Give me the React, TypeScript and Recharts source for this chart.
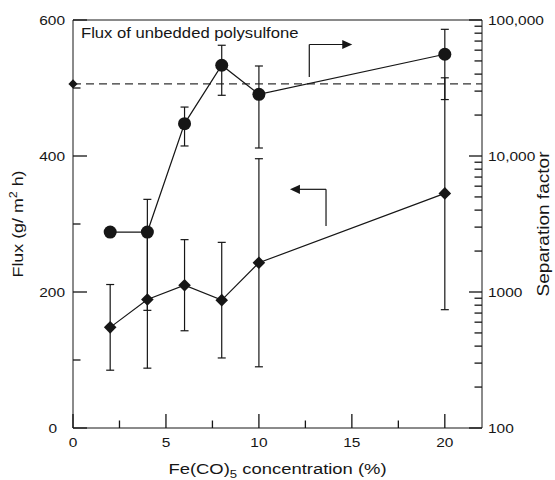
import React from 'react';
import {
  ComposedChart,
  Line,
  XAxis,
  YAxis,
  ErrorBar,
  ReferenceLine,
  ReferenceDot,
} from 'recharts';

// Fe(CO)5 concentration (%)
const concentration = [2, 4, 6, 8, 10, 20];

// Flux (g/m2 h), left axis, with error range
const fluxValues = [148, 189, 210, 188, 243, 345];
const fluxLow = [85, 88, 143, 103, 90, 174];
const fluxHigh = [211, 290, 277, 273, 396, 515];

// Separation factor, right (log) axis, with error range
const separationValues = [2760, 2760, 17300, 46500, 28400, 56000];
const separationLow = [2760, 733, 11850, 27950, 11450, 26000];
const separationHigh = [2760, 4800, 22900, 65200, 45900, 85400];

// Flux of the unbedded polysulfone membrane
const unbeddedFlux = 506;

// Axis ticks
const xTicksMajor = [0, 5, 10, 15, 20];
const xTicksAll = [0, 2.5, 5, 7.5, 10, 12.5, 15, 17.5, 20];
const fluxTicksMajor = [0, 200, 400, 600];
const fluxTicksAll = [0, 100, 200, 300, 400, 500, 600];
const sepTicksMajor = [100, 1000, 10000, 100000];
const sepTickLabels = ['100', '1000', '10,000', '100,000'];
const sepTicksAll = [
  100, 200, 300, 400, 500, 600, 700, 800, 900,
  1000, 2000, 3000, 4000, 5000, 6000, 7000, 8000, 9000,
  10000, 20000, 30000, 40000, 50000, 60000, 70000, 80000, 90000,
  100000,
];

// Arrow annotations (data coordinates on the flux axis)
const rightArrow = { x: 12.71, xTip: 15.02, yFrom: 516, yTo: 564 };
const leftArrow = { x: 13.61, xTip: 11.67, yFrom: 297, yTo: 351 };

const rows = concentration.map((x, i) => ({
  x,
  flux: fluxValues[i],
  fluxErr: [fluxValues[i] - fluxLow[i], fluxHigh[i] - fluxValues[i]],
  sep: separationValues[i],
  sepErr: [separationValues[i] - separationLow[i], separationHigh[i] - separationValues[i]],
}));

// Layout
const W = 555;
const H = 480;
const PLOT_LEFT = 73;
const PLOT_RIGHT = 482;
const PLOT_TOP = 20;
const PLOT_BOTTOM = 428;
const X_MAX = 22;
const MAJOR_TICK = 14;
const MINOR_TICK = 7.5;
const TICK_W = 1.3;
const INK = '#161616';
const FONT = '"Liberation Sans", Arial, Helvetica, sans-serif';
const STRETCH = 1.19;

type WideTextProps = {
  x: number;
  y: number;
  anchor?: 'start' | 'middle' | 'end';
  size: number;
  rotate?: number;
  children: React.ReactNode;
};

const WideText = ({ x, y, anchor = 'start', size, rotate, children }: WideTextProps) => (
  <text
    transform={`translate(${x},${y})${rotate ? ` rotate(${rotate})` : ''} scale(${STRETCH},1)`}
    textAnchor={anchor}
    fontSize={size}
    fontFamily={FONT}
    fill={INK}
  >
    {children}
  </text>
);

const FluxTitle = () => (
  <WideText x={23.3} y={224} rotate={-90} anchor="middle" size={15}>
    Flux (g/ m
    <tspan fontSize={10.5} dy={-6}>2</tspan>
    <tspan dy={6}> h)</tspan>
  </WideText>
);

const SeparationTitle = () => (
  <WideText x={549} y={224} rotate={-90} anchor="middle" size={16}>
    Separation factor
  </WideText>
);

const ConcentrationTitle = () => (
  <WideText x={277.5} y={474} anchor="middle" size={15.5}>
    Fe(CO)
    <tspan fontSize={11} dy={4}>5</tspan>
    <tspan dy={-4}> concentration (%)</tspan>
  </WideText>
);

const UnbeddedCaption = () => (
  <WideText x={PLOT_LEFT + 8} y={PLOT_TOP + 17.5} anchor="start" size={14}>
    Flux of unbedded polysulfone
  </WideText>
);

// Bottom axis: inward tick mark, label, and the axis title with the first tick
const XTick = (props: any) => {
  const { x, payload } = props;
  const v = payload.value;
  const major = xTicksMajor.includes(v);
  const len = major ? MAJOR_TICK : MINOR_TICK;
  return (
    <g>
      <rect x={x - TICK_W / 2} y={PLOT_BOTTOM - len} width={TICK_W} height={len} fill={INK} />
      {major && (
        <WideText x={x} y={PLOT_BOTTOM + 18.5} anchor="middle" size={13}>
          {v}
        </WideText>
      )}
      {v === 0 && <ConcentrationTitle />}
    </g>
  );
};

// Flux axis: inward tick mark, label, axis title and the caption at the top
const LeftTick = (props: any) => {
  const { y, payload } = props;
  const v = payload.value;
  const major = fluxTicksMajor.includes(v);
  const len = major ? MAJOR_TICK : MINOR_TICK;
  return (
    <g>
      <rect x={PLOT_LEFT} y={y - TICK_W / 2} width={len} height={TICK_W} fill={INK} />
      {major && (
        <WideText x={v === 0 ? 57 : 65} y={y + 5} anchor="end" size={13}>
          {v}
        </WideText>
      )}
      {v === 0 && <FluxTitle />}
      {v === 600 && <UnbeddedCaption />}
    </g>
  );
};

// Separation-factor axis: inward tick mark, label and axis title
const RightTick = (props: any) => {
  const { y, payload } = props;
  const idx = sepTicksMajor.indexOf(payload.value);
  const major = idx >= 0;
  const len = major ? MAJOR_TICK - 1 : MINOR_TICK;
  return (
    <g>
      <rect x={PLOT_RIGHT - len} y={y - TICK_W / 2} width={len} height={TICK_W} fill={INK} />
      {major && (
        <WideText x={488} y={y + 4.5} anchor="start" size={13}>
          {sepTickLabels[idx]}
        </WideText>
      )}
      {payload.value === 100 && <SeparationTitle />}
    </g>
  );
};

const CircleDot = (props: any) => {
  const { cx, cy } = props;
  if (cx == null || cy == null) return <g />;
  return <circle cx={cx} cy={cy} r={6.5} fill={INK} />;
};

const DiamondDot = (props: any) => {
  const { cx, cy } = props;
  if (cx == null || cy == null) return <g />;
  const s = 6.3;
  return <path d={`M${cx},${cy - s}L${cx + s},${cy}L${cx},${cy + s}L${cx - s},${cy}Z`} fill={INK} />;
};

const SmallDiamond = (props: any) => {
  const { cx, cy } = props;
  if (cx == null || cy == null) return <g />;
  const s = 4.6;
  return <path d={`M${cx},${cy - s}L${cx + s},${cy}L${cx},${cy + s}L${cx - s},${cy}Z`} fill={INK} />;
};

const HeadRight = (props: any) => {
  const { cx, cy } = props;
  if (cx == null || cy == null) return <g />;
  return <path d={`M${cx},${cy}L${cx - 10},${cy - 4.6}L${cx - 10},${cy + 4.6}Z`} fill={INK} />;
};

const HeadLeft = (props: any) => {
  const { cx, cy } = props;
  if (cx == null || cy == null) return <g />;
  return <path d={`M${cx},${cy}L${cx + 10},${cy - 4.6}L${cx + 10},${cy + 4.6}Z`} fill={INK} />;
};

export default function App() {
  return (
    <div style={{ position: 'absolute', left: 0, top: 0, width: W, height: H, background: '#fff' }}>
      <ComposedChart
        width={W}
        height={H}
        data={rows}
        margin={{ top: PLOT_TOP, right: 0, bottom: 0, left: 0 }}
      >
        <XAxis
          dataKey="x"
          type="number"
          domain={[0, X_MAX]}
          ticks={xTicksAll}
          interval={0}
          height={H - PLOT_BOTTOM}
          tickLine={false}
          tick={<XTick />}
          axisLine={{ stroke: INK }}
          allowDataOverflow
        />
        <YAxis
          yAxisId="left"
          orientation="left"
          type="number"
          domain={[0, 600]}
          ticks={fluxTicksAll}
          interval={0}
          width={PLOT_LEFT}
          tickLine={false}
          tick={<LeftTick />}
          axisLine={{ stroke: INK }}
          allowDataOverflow
        />
        <YAxis
          yAxisId="right"
          orientation="right"
          type="number"
          scale="log"
          domain={[100, 100000]}
          ticks={sepTicksAll}
          interval={0}
          width={W - PLOT_RIGHT}
          tickLine={false}
          tick={<RightTick />}
          axisLine={{ stroke: INK }}
          allowDataOverflow
        />

        {/* top frame line */}
        <ReferenceLine yAxisId="left" y={600} stroke={INK} />

        {/* unbedded polysulfone flux level */}
        <ReferenceLine yAxisId="left" y={unbeddedFlux} stroke="#333" strokeWidth={1.2} strokeDasharray="8 5" />
        <ReferenceDot yAxisId="left" x={0} y={unbeddedFlux} shape={<SmallDiamond />} />

        {/* arrow pointing to the separation-factor axis */}
        <ReferenceLine
          yAxisId="left"
          segment={[{ x: rightArrow.x, y: rightArrow.yFrom }, { x: rightArrow.x, y: rightArrow.yTo }]}
          stroke={INK}
          strokeWidth={1.2}
        />
        <ReferenceLine
          yAxisId="left"
          segment={[{ x: rightArrow.x, y: rightArrow.yTo }, { x: rightArrow.xTip - 0.4, y: rightArrow.yTo }]}
          stroke={INK}
          strokeWidth={1.2}
        />
        <ReferenceDot yAxisId="left" x={rightArrow.xTip} y={rightArrow.yTo} shape={<HeadRight />} />

        {/* arrow pointing to the flux axis */}
        <ReferenceLine
          yAxisId="left"
          segment={[{ x: leftArrow.x, y: leftArrow.yFrom }, { x: leftArrow.x, y: leftArrow.yTo }]}
          stroke={INK}
          strokeWidth={1.2}
        />
        <ReferenceLine
          yAxisId="left"
          segment={[{ x: leftArrow.x, y: leftArrow.yTo }, { x: leftArrow.xTip + 0.4, y: leftArrow.yTo }]}
          stroke={INK}
          strokeWidth={1.2}
        />
        <ReferenceDot yAxisId="left" x={leftArrow.xTip} y={leftArrow.yTo} shape={<HeadLeft />} />

        <Line
          yAxisId="left"
          dataKey="flux"
          stroke={INK}
          strokeWidth={1.2}
          dot={<DiamondDot />}
          activeDot={false}
          isAnimationActive={false}
        >
          <ErrorBar dataKey="fluxErr" direction="y" width={4} stroke={INK} strokeWidth={1.2} />
        </Line>
        <Line
          yAxisId="right"
          dataKey="sep"
          stroke={INK}
          strokeWidth={1.2}
          dot={<CircleDot />}
          activeDot={false}
          isAnimationActive={false}
        >
          <ErrorBar dataKey="sepErr" direction="y" width={4} stroke={INK} strokeWidth={1.2} />
        </Line>
      </ComposedChart>
    </div>
  );
}
